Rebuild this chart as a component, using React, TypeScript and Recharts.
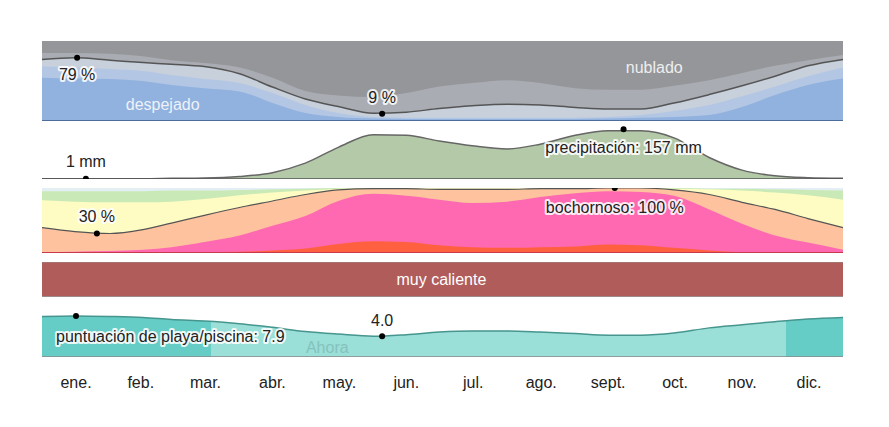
import React from 'react';
import { AreaChart, Area, XAxis, YAxis, ReferenceLine, ReferenceDot } from 'recharts';

// ---- shared x (day of year) ----
const days = [0, 15, 31, 46, 59, 74, 90, 105, 120, 135, 151, 166, 181, 196, 212, 227, 243, 258, 273, 288, 304, 319, 334, 349, 365];
const monthLabels = ['ene.', 'feb.', 'mar.', 'abr.', 'may.', 'jun.', 'jul.', 'ago.', 'sept.', 'oct.', 'nov.', 'dic.'];
const monthMids = [15.5, 45, 74.5, 105, 135.5, 166, 196.5, 227.5, 258, 288.5, 319, 349.5];
const monthStarts = [31, 59, 90, 120, 151, 181, 212, 243, 273, 304, 334];

// ---- cloud cover (cumulative %, from bottom) ----
const cloudClear = [54, 53, 52.5, 50, 45, 41, 37, 22.5, 10, 5, 3, 2.5, 2.5, 2.5, 2.5, 2.5, 2.5, 3, 4, 5, 7.5, 17.5, 32.5, 45, 53];
const cloudMostlyClear = [68, 67, 65, 62.5, 57.5, 52.5, 47.5, 35, 20, 10, 5, 4, 4, 4, 4, 4, 4, 5, 7.5, 12.5, 20, 31, 43, 56, 67];
const cloudPartly = [77, 79, 76, 73, 71, 68, 59, 42.5, 27.5, 18, 9.6, 11, 15.6, 19, 21, 20, 17, 15, 15, 22.5, 33, 44, 56, 69, 77];
const cloudMostlyCloudy = [85, 85, 84, 81, 76, 72.5, 67, 54, 37.5, 32, 30, 35, 43, 47.5, 51, 47.5, 41, 39, 39, 44, 51, 60, 69, 76, 82.5];

// ---- precipitation (mm) ----
const precip = [1, 1, 1, 1, 2, 3, 8, 20, 50, 100, 140, 138, 120, 105, 95, 110, 138, 152, 152, 130, 68, 28, 10, 4, 2];

// ---- humidity comfort (cumulative %, from bottom) ----
const humMiserable = [0, 0, 0, 0, 0, 1, 2, 4, 7, 14, 18, 17, 12, 9, 8, 9, 10, 13, 12, 8, 4, 1, 0, 0, 0];
const humOppressive = [1, 2, 3, 5, 9, 17, 27, 42, 57, 80, 91, 88, 82, 77, 79, 86, 92, 95, 94, 88, 67, 45, 27, 16, 5];
const humMuggy = [39, 33, 30, 36, 46, 58, 70, 80, 90, 97, 99, 99, 98, 98, 98, 99, 99, 100, 100, 97, 90, 78, 67, 53, 39];
const humHumid = [81, 79, 78, 78, 79, 83, 89, 93, 96, 99, 100, 100, 100, 100, 100, 100, 100, 100, 100, 99, 98, 96, 93, 89, 82];
const humComfortable = [95, 95, 95, 95, 96, 96, 97, 98, 99, 100, 100, 100, 100, 100, 100, 100, 100, 100, 100, 100, 99, 99, 98, 97, 96];

// ---- beach score (0-10) ----
const beachScore = [7.8, 7.9, 7.8, 7.6, 7.2, 6.9, 6.4, 5.7, 4.9, 4.4, 4.0, 4.3, 4.8, 5.0, 5.0, 4.8, 4.5, 4.2, 4.2, 4.6, 5.6, 6.2, 6.8, 7.3, 7.6];

const cloudData = days.map((d, i) => ({ d, overcast: 100, mc: cloudMostlyCloudy[i], pc: cloudPartly[i], mcl: cloudMostlyClear[i], cl: cloudClear[i] }));
const precipData = days.map((d, i) => ({ d, p: precip[i] }));
const humData = days.map((d, i) => ({ d, dry: 100, comf: humComfortable[i], humid: humHumid[i], muggy: humMuggy[i], opp: humOppressive[i], mis: humMiserable[i] }));
const tempData = days.map((d) => ({ d, v: 1 }));
const beachData = days.map((d, i) => ({ d, s: beachScore[i] }));

const W = 889;
const M = { top: 0, right: 46, bottom: 0, left: 42 };
const FONT = '"Liberation Sans", Arial, sans-serif';

function haloText(text: string, x: number, y: number, anchor = 'middle', fill = '#222', halo = true) {
  return (
    <text x={x} y={y} textAnchor={anchor} dominantBaseline="central" fontFamily={FONT} fontSize={16}
      fill={fill} stroke={halo ? 'rgba(255,255,255,0.85)' : 'none'} strokeWidth={halo ? 4 : 0}
      strokeLinejoin="round" style={{ paintOrder: 'stroke' }}>{text}</text>
  );
}

function dotLabel(text: string, dx: number, dy: number, opts: { dot?: boolean; anchor?: string; fill?: string; halo?: boolean } = {}) {
  const { dot = true, anchor = 'middle', fill = '#222', halo = true } = opts;
  return (p: any) => (
    <g>
      {dot && <circle cx={p.cx} cy={p.cy} r={3} fill="#000" />}
      {haloText(text, p.cx + dx, p.cy + dy, anchor, fill, halo)}
    </g>
  );
}

const xAxis = <XAxis dataKey="d" type="number" domain={[0, 365]} hide />;

export default function App() {
  const pos = (top: number): React.CSSProperties => ({ position: 'absolute', left: 0, top });
  return (
    <div style={{ position: 'absolute', left: 0, top: 0, width: W, height: 427, background: '#fff', fontFamily: FONT }}>
      {/* cloud cover */}
      <div style={pos(41)}>
        <AreaChart width={W} height={80} data={cloudData} margin={M}>
          {xAxis}
          <YAxis hide domain={[0, 100]} />
          <Area dataKey="overcast" type="monotone" stroke="none" fill="#95969a" fillOpacity={1} isAnimationActive={false} />
          <Area dataKey="mc" type="monotone" stroke="none" fill="#a9acb2" fillOpacity={1} isAnimationActive={false} />
          <Area dataKey="pc" type="monotone" stroke="#555" strokeWidth={1.5} fill="#c8d0dc" fillOpacity={1} isAnimationActive={false} />
          <Area dataKey="mcl" type="monotone" stroke="none" fill="#b3c6e3" fillOpacity={1} isAnimationActive={false} />
          <Area dataKey="cl" type="monotone" stroke="none" fill="#91b1df" fillOpacity={1} isAnimationActive={false} />
          <ReferenceLine y={0} stroke="#4d6c9c" strokeWidth={2} />
          <ReferenceDot x={16} y={79} r={3} shape={dotLabel('79 %', 0, 17)} />
          <ReferenceDot x={155} y={9} r={3} shape={dotLabel('9 %', 0, -16)} />
          <ReferenceDot x={55} y={21} r={0} shape={dotLabel('despejado', 0, 0, { dot: false, fill: '#eef2f8', halo: false })} />
          <ReferenceDot x={279} y={67} r={0} shape={dotLabel('nublado', 0, 0, { dot: false, fill: '#eeeeee', halo: false })} />
        </AreaChart>
      </div>

      {/* precipitation */}
      <div style={pos(122)}>
        <AreaChart width={W} height={57} data={precipData} margin={M}>
          {xAxis}
          <YAxis hide domain={[0, 180]} />
          <Area dataKey="p" type="monotone" stroke="#666" strokeWidth={1.5} fill="#b4c9a8" fillOpacity={1} isAnimationActive={false} />
          <ReferenceLine y={0} stroke="#555" strokeWidth={1.5} />
          <ReferenceDot x={20} y={1} r={3} shape={dotLabel('1 mm', 0, -17)} />
          <ReferenceDot x={265} y={157} r={3} shape={dotLabel('precipitación: 157 mm', 0, 18)} />
        </AreaChart>
      </div>

      {/* humidity comfort */}
      <div style={pos(188)}>
        <AreaChart width={W} height={65} data={humData} margin={M}>
          {xAxis}
          <YAxis hide domain={[0, 100]} />
          <Area dataKey="dry" type="monotone" stroke="none" fill="#e4eef5" fillOpacity={1} isAnimationActive={false} />
          <Area dataKey="comf" type="monotone" stroke="none" fill="#c9eab7" fillOpacity={1} isAnimationActive={false} />
          <Area dataKey="humid" type="monotone" stroke="none" fill="#fefcc3" fillOpacity={1} isAnimationActive={false} />
          <Area dataKey="muggy" type="monotone" stroke="#555" strokeWidth={1.2} fill="#fec39e" fillOpacity={1} isAnimationActive={false} />
          <Area dataKey="opp" type="monotone" stroke="none" fill="#ff69b2" fillOpacity={1} isAnimationActive={false} />
          <Area dataKey="mis" type="monotone" stroke="none" fill="#ff6140" fillOpacity={1} isAnimationActive={false} />
          <ReferenceLine y={0} stroke="#c8394a" strokeWidth={2} />
          <ReferenceDot x={25} y={30} r={3} shape={dotLabel('30 %', 0, -17)} />
          <ReferenceDot x={261} y={100} r={3} shape={dotLabel('bochornoso: 100 %', 0, 19)} />
        </AreaChart>
      </div>

      {/* temperature band */}
      <div style={pos(262)}>
        <AreaChart width={W} height={35} data={tempData} margin={M}>
          {xAxis}
          <YAxis hide domain={[0, 1]} />
          <Area dataKey="v" type="linear" stroke="none" fill="#b05c5b" fillOpacity={1} isAnimationActive={false} />
          <ReferenceLine y={1} stroke="#9a8a8a" strokeWidth={1} />
          <ReferenceLine y={0} stroke="#9a9a9a" strokeWidth={1.5} />
          <ReferenceDot x={182} y={0.5} r={0} shape={dotLabel('muy caliente', 0, 0, { dot: false, fill: '#ffffff', halo: false })} />
        </AreaChart>
      </div>

      {/* beach score */}
      <div style={pos(305)}>
        <AreaChart width={W} height={52} data={beachData} margin={M}>
          <defs>
            <linearGradient id="beachFill" x1="0" y1="0" x2="1" y2="0">
              <stop offset="0" stopColor="#66cdc6" />
              <stop offset="0.211" stopColor="#66cdc6" />
              <stop offset="0.211" stopColor="#9adfd8" />
              <stop offset="0.929" stopColor="#9adfd8" />
              <stop offset="0.929" stopColor="#66cdc6" />
              <stop offset="1" stopColor="#66cdc6" />
            </linearGradient>
          </defs>
          {xAxis}
          <YAxis hide domain={[0, 10]} />
          <Area dataKey="s" type="monotone" stroke="#46958f" strokeWidth={1.5} fill="url(#beachFill)" fillOpacity={1} isAnimationActive={false} />
          <ReferenceLine y={0} stroke="#888" strokeWidth={1.5} />
          <ReferenceDot x={15.5} y={7.9} r={3} shape={dotLabel('puntuación de playa/piscina: 7.9', -20, 21, { anchor: 'start' })} />
          <ReferenceDot x={155} y={4.0} r={3} shape={dotLabel('4.0', 0, -16)} />
          <ReferenceDot x={130} y={1.8} r={0} shape={dotLabel('Ahora', 0, 0, { dot: false, fill: '#86c2bd', halo: false })} />
        </AreaChart>
      </div>

      {/* grid lines + month labels overlay */}
      <div style={{ ...pos(0), pointerEvents: 'none' }}>
        <AreaChart width={W} height={427} data={beachData} margin={{ top: 40, right: 46, bottom: 25, left: 42 }}>
          <XAxis dataKey="d" type="number" domain={[0, 365]} ticks={monthMids} interval={0}
            tickFormatter={(v: number) => monthLabels[monthMids.indexOf(v)]}
            axisLine={false} tickLine={false} tickSize={0} tickMargin={5} height={30}
            tick={{ fontSize: 16, fill: '#222', fontFamily: FONT }} />
          <YAxis hide domain={[0, 1]} />
          {monthStarts.map((m) => (
            <ReferenceLine key={m} x={m} stroke="rgba(0,0,0,0.16)" strokeWidth={1.5} />
          ))}
        </AreaChart>
      </div>
    </div>
  );
}
